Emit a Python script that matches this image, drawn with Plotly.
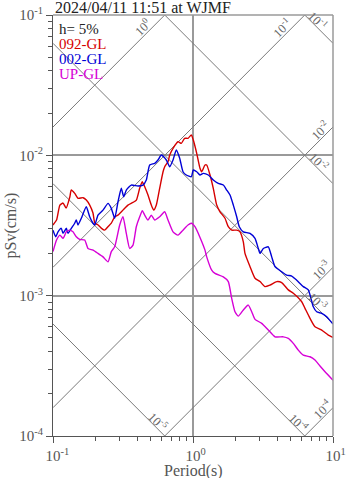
import numpy as np
import plotly.graph_objects as go

# ---- response spectra (h = 5%) ----
period_ns = [0.100, 0.106, 0.112, 0.118, 0.124, 0.132, 0.135, 0.143, 0.151, 0.164,
             0.173, 0.183, 0.193, 0.199, 0.210, 0.221, 0.234, 0.247, 0.261, 0.276,
             0.291, 0.316, 0.343, 0.373, 0.394, 0.416, 0.434, 0.452, 0.477, 0.504,
             0.524, 0.547, 0.578, 0.611, 0.628, 0.663, 0.682, 0.720, 0.781, 0.825,
             0.872, 0.921, 0.973, 1.005, 1.063, 1.122, 1.153, 1.218, 1.253, 1.323,
             1.396, 1.477, 1.559, 1.693, 1.787, 1.890, 2.052, 2.166, 2.288, 2.351,
             2.554, 2.773, 3.010, 3.268, 3.548, 3.963, 4.301, 4.795, 5.205, 5.976,
             6.310, 6.851, 7.436, 8.305, 9.256, 10.0]
psv_ns = [0.00319, 0.00346, 0.00442, 0.00457, 0.00421, 0.00507, 0.00566, 0.00536, 0.00494, 0.00499,
          0.00480, 0.00442, 0.00388, 0.00329, 0.00319, 0.00303, 0.00293, 0.00310, 0.00329, 0.00365,
          0.00375, 0.00407, 0.00442, 0.00462, 0.00480, 0.00582, 0.00648, 0.00597, 0.00521, 0.00442,
          0.00407, 0.00442, 0.00582, 0.00764, 0.00830, 0.00900, 0.01005, 0.01122, 0.01250, 0.01218,
          0.01322, 0.01322, 0.01400, 0.01285, 0.01033, 0.00808, 0.00764, 0.00853, 0.00853, 0.00724,
          0.00582, 0.00442, 0.00396, 0.00356, 0.00310, 0.00293, 0.00293, 0.00285, 0.00242, 0.00200,
          0.00161, 0.00133, 0.00126, 0.00116, 0.00119, 0.00126, 0.00124, 0.00110, 0.00104, 0.000905,
          0.000812, 0.000689, 0.000600, 0.000569, 0.000524, 0.000504]

period_ew = [0.100, 0.1045, 0.1086, 0.1146, 0.1179, 0.1245, 0.1280, 0.1351, 0.1429, 0.1467,
             0.1509, 0.1593, 0.1729, 0.1828, 0.1931, 0.1986, 0.2096, 0.2276, 0.2472, 0.2609,
             0.2758, 0.2912, 0.3075, 0.3199, 0.3339, 0.3625, 0.4048, 0.4394, 0.4638, 0.4906,
             0.5327, 0.5623, 0.5937, 0.6447, 0.682, 0.720, 0.7597, 0.8035, 0.8482, 0.8956,
             0.973, 1.005, 1.063, 1.122, 1.185, 1.286, 1.396, 1.516, 1.646, 1.741,
             1.838, 1.941, 2.052, 2.141, 2.288, 2.554, 2.773, 2.927, 3.010, 3.178,
             3.451, 3.649, 3.852, 4.301, 4.670, 5.070, 5.504, 6.137, 6.662, 7.234,
             7.649, 8.305, 9.016, 10.0]
psv_ew = [0.00293, 0.00263, 0.00285, 0.00302, 0.00278, 0.00302, 0.00278, 0.00302, 0.00328, 0.00346,
          0.00319, 0.00356, 0.00430, 0.00365, 0.00328, 0.00319, 0.00375, 0.00407, 0.00455, 0.00419,
          0.00356, 0.00467, 0.00582, 0.00507, 0.00566, 0.00614, 0.00604, 0.00614, 0.00667, 0.00853,
          0.00877, 0.00926, 0.01005, 0.00926, 0.00830, 0.00926, 0.01091, 0.00952, 0.00764, 0.00724,
          0.00704, 0.00786, 0.00764, 0.00724, 0.00744, 0.00724, 0.00667, 0.00631, 0.00614, 0.00566,
          0.00521, 0.00442, 0.00365, 0.00310, 0.00285, 0.00278, 0.00256, 0.00217, 0.00200, 0.00217,
          0.00223, 0.00189, 0.00161, 0.00148, 0.00140, 0.00138, 0.00129, 0.00116, 0.00110, 0.000834,
          0.000768, 0.000748, 0.000707, 0.000627]

period_ud = [0.100, 0.106, 0.112, 0.118, 0.1245, 0.1316, 0.1389, 0.1467, 0.1551, 0.1684,
             0.1778, 0.1931, 0.2096, 0.2276, 0.2472, 0.2609, 0.2758, 0.2995, 0.3162, 0.3339,
             0.353, 0.3728, 0.3936, 0.4162, 0.4344, 0.4519, 0.477, 0.5036, 0.5327, 0.578,
             0.628, 0.663, 0.720, 0.781, 0.848, 0.921, 0.973, 1.033, 1.122, 1.218,
             1.253, 1.360, 1.436, 1.646, 1.787, 1.890, 1.995, 2.107, 2.288, 2.483,
             2.626, 2.773, 3.095, 3.451, 3.852, 4.416, 4.795, 5.205, 5.651, 6.137,
             6.851, 7.436, 8.075, 8.768, 10.0]
psv_ud = [0.00206, 0.00249, 0.00270, 0.00256, 0.00285, 0.00293, 0.00285, 0.00263, 0.00252, 0.00249,
          0.00217, 0.00211, 0.00200, 0.00189, 0.00174, 0.00206, 0.00223, 0.00319, 0.00365, 0.00278,
          0.00217, 0.00229, 0.00310, 0.00365, 0.00403, 0.00375, 0.00346, 0.00375, 0.00346, 0.00365,
          0.00396, 0.00346, 0.00285, 0.00270, 0.00293, 0.00319, 0.00328, 0.00310, 0.00260, 0.00211,
          0.00189, 0.00152, 0.00144, 0.00136, 0.00126, 0.000957, 0.000768, 0.000715, 0.000790, 0.000857,
          0.000768, 0.000678, 0.000635, 0.000569, 0.000509, 0.000509, 0.000496, 0.000457, 0.000409, 0.000377,
          0.000367, 0.000348, 0.000315, 0.000287, 0.000250]

series_names = ["092-GL", "002-GL", "UP-GL"]
series_colors = ["#d60000", "#0000d6", "#d600d6"]

# ---- tripartite grid: constant acceleration / displacement lines ----
accel_levels = [1.0, 0.1, 0.01, 0.001, 0.0001]
accel_exps = [0, -1, -2, -3, -4]
accel_label_T = [0.48, 4.72, 8.77, 8.85, 9.04]
disp_levels = [0.1, 0.01, 0.001, 0.0001, 0.00001]
disp_exps = [-1, -2, -3, -4, -5]
disp_label_T = [7.31, 7.40, 7.31, 5.31, 0.526]

x_ticks = [0.1, 1, 10]
x_exps = [-1, 0, 1]
y_ticks = [1e-4, 1e-3, 1e-2, 1e-1]
y_exps = [-4, -3, -2, -1]

SERIF = "Liberation Serif"
TWO_PI = 2 * np.pi
period_span = np.array([0.1, 10.0])

fig = go.Figure()

for a in accel_levels:
    fig.add_trace(go.Scatter(x=period_span, y=a * period_span / TWO_PI, mode="lines",
                             line=dict(color="#7a7a7a", width=1), hoverinfo="skip"))
for d in disp_levels:
    fig.add_trace(go.Scatter(x=period_span, y=TWO_PI * d / period_span, mode="lines",
                             line=dict(color="#7a7a7a", width=1), hoverinfo="skip"))

for T, S, name, col in zip([period_ns, period_ew, period_ud], [psv_ns, psv_ew, psv_ud],
                           series_names, series_colors):
    fig.add_trace(go.Scatter(x=T, y=S, mode="lines", name=name,
                             line=dict(color=col, width=1.4, shape="spline", smoothing=0.5)))

annotations = []
for a, e, t in zip(accel_levels, accel_exps, accel_label_T):
    annotations.append(dict(x=np.log10(t), y=np.log10(a * t / TWO_PI), xref="x", yref="y",
                            text=f"10<sup>{e}</sup>", showarrow=False, textangle=-45,
                            xanchor="center", yanchor="middle", xshift=-5, yshift=5,
                            font=dict(family=SERIF, size=12.5, color="#666")))
for d, e, t in zip(disp_levels, disp_exps, disp_label_T):
    annotations.append(dict(x=np.log10(t), y=np.log10(TWO_PI * d / t), xref="x", yref="y",
                            text=f"10<sup>{e}</sup>", showarrow=False, textangle=45,
                            xanchor="center", yanchor="middle", xshift=4, yshift=4,
                            font=dict(family=SERIF, size=12.5, color="#666")))

# title and legend text
annotations.append(dict(x=0, y=1, xref="paper", yref="paper", xanchor="left", yanchor="middle",
                        yshift=8, text="2024/04/11 11:51 at WJMF", showarrow=False,
                        font=dict(family=SERIF, size=16, color="#222")))
legend_rows = [("h= 5%", "#222")] + list(zip(series_names, series_colors))
for i, (txt, col) in enumerate(legend_rows):
    annotations.append(dict(x=0, y=1, xref="paper", yref="paper", xanchor="left", yanchor="middle",
                            xshift=4, yshift=-14 - 15 * i, text=txt, showarrow=False,
                            font=dict(family=SERIF, size=15, color=col)))
# axis titles
annotations.append(dict(x=0.5, y=0, xref="paper", yref="paper", xanchor="center", yanchor="middle",
                        yshift=-35, text="Period(s)", showarrow=False,
                        font=dict(family=SERIF, size=16, color="#555")))
annotations.append(dict(x=0, y=0.5, xref="paper", yref="paper", xanchor="center", yanchor="middle",
                        xshift=-43, textangle=-90, text="pSv(cm/s)", showarrow=False,
                        font=dict(family=SERIF, size=16, color="#555")))

hidden = "<span style='color:rgba(0,0,0,0)'><sup>{}</sup></span>"
x_ticktext = [hidden.format(e) + f"10<sup>{e}</sup>" for e in x_exps]
y_ticktext = [f"10<sup>{e}</sup>" for e in y_exps]

x_minor = [m * 10.0 ** k for k in (-1, 0) for m in range(2, 10)]
y_minor = [m * 10.0 ** k for k in (-4, -3, -2) for m in range(2, 10)]

axis_common = dict(type="log", showline=True, linecolor="#555", linewidth=1.2,
                   ticks="outside", ticklen=6, tickwidth=1.2, tickcolor="#555",
                   showgrid=True, gridcolor="#9a9a9a", gridwidth=1.5, zeroline=False,
                   automargin=False,
                   tickfont=dict(family=SERIF, size=15, color="#555"))

fig.update_layout(
    width=347, height=478,
    margin=dict(l=53, r=14, t=15, b=42),
    paper_bgcolor="white", plot_bgcolor="white",
    showlegend=False,
    xaxis=dict(range=[-1, 1], tickmode="array", tickvals=x_ticks, ticktext=x_ticktext,
               minor=dict(tickmode="array", tickvals=x_minor, ticks="outside", ticklen=3.5,
                          tickcolor="#555", tickwidth=1.2, showgrid=False),
               **axis_common),
    yaxis=dict(range=[-4, -1], tickmode="array", tickvals=y_ticks, ticktext=y_ticktext,
               minor=dict(tickmode="array", tickvals=y_minor, ticks="outside", ticklen=4,
                          tickcolor="#555", tickwidth=1.2, showgrid=False),
               **axis_common),
    annotations=annotations,
    shapes=[
        dict(type="line", xref="paper", yref="paper", x0=0, x1=1, y0=1, y1=1,
             line=dict(color="#9a9a9a", width=1.5)),
        dict(type="line", xref="paper", yref="paper", x0=1, x1=1, y0=0, y1=1,
             line=dict(color="#9a9a9a", width=1.5)),
    ],
)

fig.write_html("out.html")
